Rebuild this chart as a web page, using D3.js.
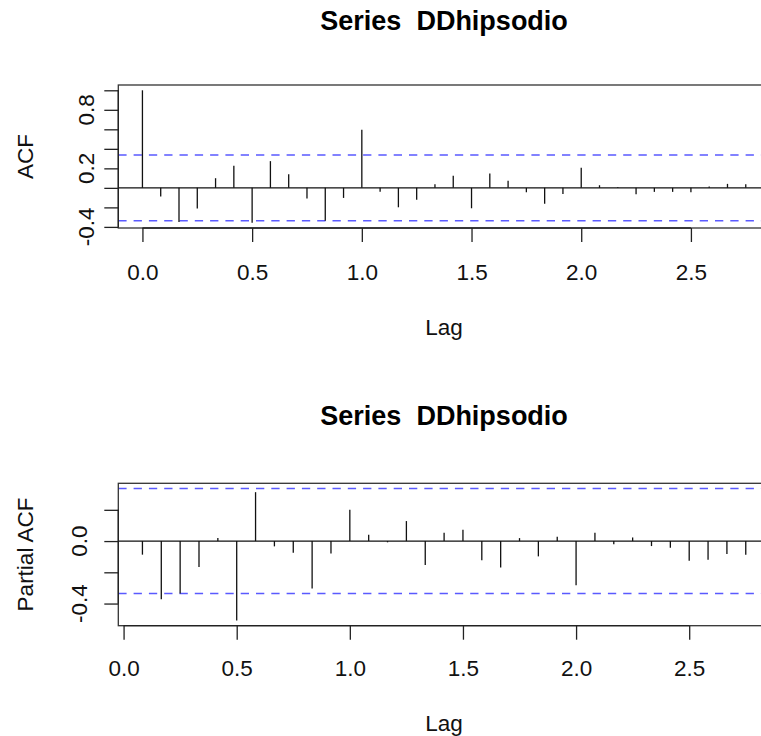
<!DOCTYPE html>
<html>
<head>
<meta charset="utf-8">
<script src="https://cdn.jsdelivr.net/npm/d3@7"></script>
<style>
  html, body { margin: 0; padding: 0; background: #fff; overflow: hidden; }
  svg { display: block; font-family: "Liberation Sans", Arial, Helvetica, sans-serif; }
</style>
</head>
<body>
<svg id="chart" width="761" height="736"></svg>
<script>
// ---------------- data ----------------
const seriesTitle = "Series  DDhipsodio";
const frequency = 12;
const acfLagMonths = [0,1,2,3,4,5,6,7,8,9,10,11,12,13,14,15,16,17,18,19,20,21,22,23,24,25,26,27,28,29,30,31,32,33];
const acfValues = [1.0, -0.089, -0.350, -0.212, 0.099, 0.226, -0.357, 0.274, 0.140, -0.110, -0.336, -0.103,
                   0.596, -0.041, -0.199, -0.123, 0.038, 0.123, -0.209, 0.147, 0.072, -0.045, -0.164, -0.062,
                   0.206, 0.027, 0.008, -0.065, -0.041, -0.041, -0.045, 0.014, 0.041, 0.038];
const pacfLagMonths = [1,2,3,4,5,6,7,8,9,10,11,12,13,14,15,16,17,18,19,20,21,22,23,24,25,26,27,28,29,30,31,32,33];
const pacfValues = [-0.087, -0.372, -0.336, -0.166, 0.019, -0.508, 0.313, -0.034, -0.074, -0.304, -0.079, 0.200,
                    0.040, -0.008, 0.128, -0.153, 0.053, 0.072, -0.123, -0.170, 0.019, -0.098, 0.028, -0.283,
                    0.053, -0.021, 0.023, -0.032, -0.043, -0.126, -0.119, -0.083, -0.087];
const confLimit = 0.336;
const xTicks = [0, 0.5, 1, 1.5, 2, 2.5];
const xTickLabels = ["0.0", "0.5", "1.0", "1.5", "2.0", "2.5"];
const acfYTicks = [-0.4, -0.2, 0.0, 0.2, 0.4, 0.6, 0.8, 1.0];
const acfYTickLabels = ["-0.4", "", "", "0.2", "", "", "0.8", ""];
const pacfYTicks = [-0.4, -0.2, 0.0, 0.2];
const pacfYTickLabels = ["-0.4", "", "0.0", ""];

// ---------------- drawing ----------------
const svg = d3.select("#chart");
svg.append("rect").attr("width", 761).attr("height", 736).attr("fill", "#fff");

function extend(lo, hi) { const d = (hi - lo) * 0.04; return [lo - d, hi + d]; }

function panel(opt) {
  const g = svg.append("g");
  const lags = opt.lagMonths.map(m => m / frequency);
  const xDom = extend(d3.min(lags), d3.max(lags));
  const yDom = extend(Math.min(d3.min(opt.values), -confLimit), Math.max(d3.max(opt.values), confLimit));
  const x = d3.scaleLinear().domain(xDom).range([opt.left, opt.right]);
  const y = d3.scaleLinear().domain(yDom).range([opt.bottom, opt.top]);
  const cx = (opt.left + opt.right) / 2;

  // title
  g.append("text").attr("x", cx).attr("y", opt.titleY).attr("text-anchor", "middle")
    .attr("font-size", 27).attr("font-weight", "bold").attr("fill", "#000")
    .style("white-space", "pre").text(seriesTitle);

  // zero line
  g.append("line").attr("x1", opt.left).attr("x2", opt.right)
    .attr("y1", y(0)).attr("y2", y(0)).attr("stroke", "#111").attr("stroke-width", 1.2);

  // confidence lines
  [confLimit, -confLimit].forEach(c => {
    g.append("line").attr("x1", opt.left).attr("x2", opt.right)
      .attr("y1", y(c)).attr("y2", y(c))
      .attr("stroke", "#5a5aff").attr("stroke-width", 1.5)
      .attr("stroke-dasharray", "8.3,7");
  });

  // bars
  g.selectAll("line.bar").data(opt.values).enter().append("line").attr("class", "bar")
    .attr("x1", (d, i) => x(lags[i])).attr("x2", (d, i) => x(lags[i]))
    .attr("y1", y(0)).attr("y2", d => y(d))
    .attr("stroke", "#111").attr("stroke-width", 1.3);

  // box
  g.append("rect").attr("x", opt.left).attr("y", opt.top)
    .attr("width", opt.right - opt.left).attr("height", opt.bottom - opt.top)
    .attr("fill", "none").attr("stroke", "#333").attr("stroke-width", 1.3);

  // x axis
  const xa = g.append("g").attr("transform", `translate(0,${opt.bottom})`)
    .call(d3.axisBottom(x).tickValues(xTicks).tickSize(14).tickPadding(18)
      .tickFormat((d, i) => xTickLabels[i]));
  xa.select(".domain").attr("d", `M${x(xTicks[0])},0H${x(xTicks[xTicks.length - 1])}`)
    .attr("stroke", "#222").attr("stroke-width", 1.3);
  xa.selectAll(".tick line").attr("stroke", "#222").attr("stroke-width", 1.3);
  xa.selectAll(".tick text").attr("font-size", 22.5).attr("fill", "#111")
    .attr("font-family", "'Liberation Sans', Arial, Helvetica, sans-serif")
    .attr("dy", null).attr("y", opt.xLabelBaseline - opt.bottom);

  // y axis
  const ya = g.append("g").attr("transform", `translate(${opt.left},0)`)
    .call(d3.axisLeft(y).tickValues(opt.yTicks).tickSize(14).tickFormat(""));
  ya.select(".domain").attr("d", `M0,${y(opt.yTicks[0])}V${y(opt.yTicks[opt.yTicks.length - 1])}`)
    .attr("stroke", "#222").attr("stroke-width", 1.3);
  ya.selectAll(".tick line").attr("stroke", "#222").attr("stroke-width", 1.3);
  opt.yTicks.forEach((t, i) => {
    if (!opt.yTickLabels[i]) return;
    g.append("text")
      .attr("transform", `translate(${opt.yLabelBaseline},${y(t)}) rotate(-90)`)
      .attr("text-anchor", "middle").attr("font-size", 22.5).attr("fill", "#111")
      .text(opt.yTickLabels[i]);
  });

  // axis titles
  g.append("text").attr("x", cx).attr("y", opt.lagBaseline).attr("text-anchor", "middle")
    .attr("font-size", 22.5).attr("fill", "#111").text("Lag");
  g.append("text")
    .attr("transform", `translate(33,${(opt.top + opt.bottom) / 2}) rotate(-90)`)
    .attr("text-anchor", "middle").attr("font-size", 22.5).attr("fill", "#111")
    .text(opt.yTitle);
}

panel({
  lagMonths: acfLagMonths, values: acfValues.concat([]),
  left: 118.3, right: 769.9, top: 85, bottom: 228,
  titleY: 30, xLabelBaseline: 279.5, lagBaseline: 335, yLabelBaseline: 94,
  yTicks: acfYTicks, yTickLabels: acfYTickLabels, yTitle: "ACF"
});
panel({
  lagMonths: pacfLagMonths, values: pacfValues,
  left: 118.3, right: 769.9, top: 483.3, bottom: 625.7,
  titleY: 425, xLabelBaseline: 676.5, lagBaseline: 731, yLabelBaseline: 87,
  yTicks: pacfYTicks, yTickLabels: pacfYTickLabels, yTitle: "Partial ACF"
});
</script>
</body>
</html>
